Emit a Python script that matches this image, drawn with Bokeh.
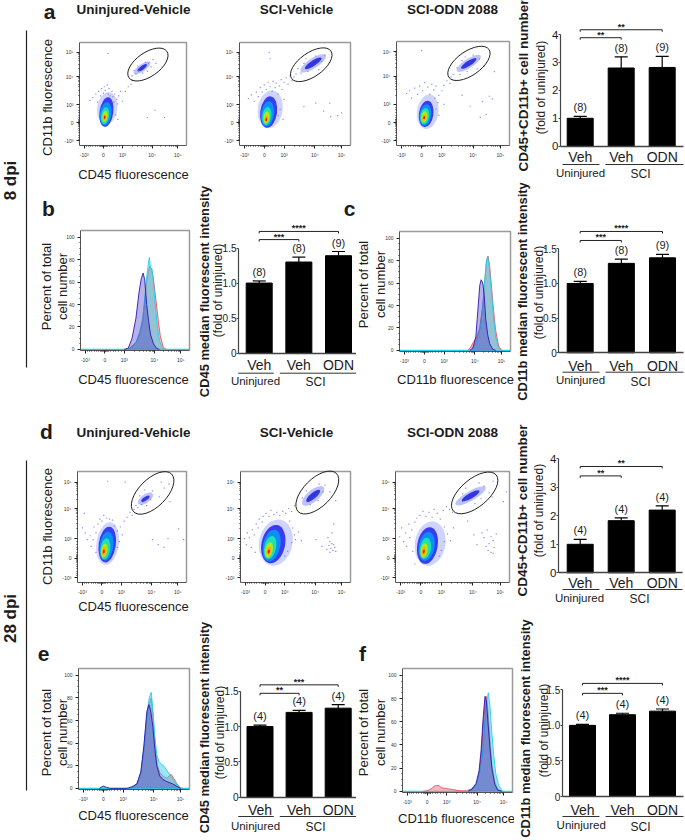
from bokeh.plotting import figure
from bokeh.layouts import row, column
from bokeh.models import Range1d, FixedTicker, Label, Whisker, TeeHead, ColumnDataSource
from bokeh.core.properties import value
from bokeh.embed import file_html
from bokeh.resources import INLINE

FONT = "Liberation Sans"
INK = "#1c1c1c"
LETTER = 21

# ---------- flow axes (biexponential display units) ----------
biex_ticks = [-1, 0, 1, 2.55, 3.9]
biex_labels = {-1: "-10³", 0: "0", 1: "10³", 2.55: "10⁴", 3.9: "10⁵"}
biex_minor = [-0.9, -0.8, -0.68, -0.55, -0.42, -0.3, -0.2, -0.15, -0.1, -0.06, -0.03, 0.03, 0.06, 0.1, 0.15,
              0.2, 0.3, 0.42, 0.55, 0.7, 0.85, 1.5, 1.8, 2.0, 2.15, 2.27, 2.37, 2.44, 2.5,
              3.0, 3.25, 3.45, 3.58, 3.68, 3.76, 3.83]
biex_x = (-1.25, 4.35)
biex_y = (-1.25, 4.45)

# density contours, outer to inner
blob_colors = ["#cfd3ff", "#3a3cf0", "#0a8ff6", "#1fe0b4", "#b0e81e", "#ffae00", "#e4200e"]
a1_cx = [0.20, 0.16, 0.12, 0.09, 0.08, 0.07, 0.07]
a1_cy = [0.80, 0.60, 0.50, 0.40, 0.35, 0.32, 0.31]
a1_w = [1.05, 0.72, 0.60, 0.42, 0.28, 0.17, 0.09]
a1_h = [1.80, 1.65, 1.30, 0.95, 0.62, 0.36, 0.18]
a2_cx = [0.30, 0.22, 0.16, 0.13, 0.11, 0.10, 0.10]
a2_cy = [0.75, 0.60, 0.50, 0.38, 0.30, 0.22, 0.18]
a2_w = [1.25, 0.85, 0.66, 0.46, 0.30, 0.18, 0.09]
a2_h = [2.10, 1.75, 1.40, 1.00, 0.66, 0.38, 0.18]
a3_cx = [0.30, 0.22, 0.18, 0.15, 0.13, 0.12, 0.12]
a3_cy = [0.60, 0.48, 0.42, 0.36, 0.32, 0.29, 0.28]
a3_w = [1.05, 0.72, 0.58, 0.44, 0.30, 0.18, 0.09]
a3_h = [1.90, 1.45, 1.20, 0.90, 0.62, 0.36, 0.18]
d1_cx = [0.30, 0.28, 0.24, 0.18, 0.13, 0.11, 0.10]
d1_cy = [0.75, 0.70, 0.62, 0.48, 0.40, 0.36, 0.34]
d1_w = [1.15, 0.88, 0.70, 0.50, 0.32, 0.20, 0.10]
d1_h = [2.20, 1.85, 1.50, 1.10, 0.72, 0.42, 0.20]
d2_cx = [0.55, 0.42, 0.34, 0.26, 0.20, 0.19, 0.19]
d2_cy = [0.80, 0.72, 0.65, 0.55, 0.42, 0.37, 0.34]
d2_w = [1.70, 1.20, 0.88, 0.60, 0.38, 0.22, 0.11]
d2_h = [2.40, 2.00, 1.65, 1.20, 0.80, 0.46, 0.22]
d3_cx = [0.45, 0.32, 0.28, 0.22, 0.16, 0.14, 0.14]
d3_cy = [0.75, 0.65, 0.60, 0.50, 0.40, 0.36, 0.34]
d3_w = [1.50, 1.00, 0.78, 0.55, 0.34, 0.20, 0.10]
d3_h = [2.30, 1.90, 1.50, 1.10, 0.75, 0.44, 0.20]

# gated population: [faint, dense]
a1_pop = dict(cx=2.03, cy=3.05, w=[1.05, 0.60], h=[0.40, 0.22], ang=35)
a2_pop = dict(cx=2.47, cy=3.30, w=[1.50, 1.00], h=[0.55, 0.30], ang=33)
a3_pop = dict(cx=2.33, cy=3.25, w=[1.40, 0.90], h=[0.50, 0.28], ang=33)
d1_pop = dict(cx=2.24, cy=3.05, w=[0.90, 0.50], h=[0.45, 0.20], ang=35)
d2_pop = dict(cx=2.45, cy=3.20, w=[1.40, 0.90], h=[0.60, 0.30], ang=40)
d3_pop = dict(cx=2.44, cy=3.20, w=[1.70, 1.00], h=[0.50, 0.28], ang=30)

# gate ellipses: cx, cy, major, minor, angle
a1_gate = (2.33, 3.23, 2.42, 1.32, 35)
a2_gate = (2.37, 3.22, 2.42, 1.32, 35)
a3_gate = (2.34, 3.25, 2.42, 1.32, 35)
d1_gate = (2.61, 3.35, 2.75, 1.42, 45)
d2_gate = (2.66, 3.37, 2.75, 1.42, 45)
d3_gate = (2.64, 3.35, 2.75, 1.42, 40)

# sparse events
a1_pts = [(-.7,1.25),(-.55,1.4),(-.4,1.6),(-.3,1.15),(-.25,1.75),(-.15,1.5),(-.1,1.9),(0,1.65),(.05,2.0),(.1,1.8),(.2,2.1),
          (.25,1.6),(.3,1.9),(.35,1.5),(.45,1.75),(.5,1.45),(.6,1.6),(.7,1.3),(.8,1.5),(.9,1.75),(.55,1.15),(.75,1.05),
          (1.0,1.2),(1.15,1.75),(1.3,2.0),(1.5,2.35),(1.45,2.15),(.65,.45),(.75,.2),(2.3,.3),(2.7,.7),(3.2,.3),(.25,3.85),
          (1.5,2.6),(1.7,2.7),(1.85,2.9),(1.6,2.9),(2.35,3.3),(2.5,3.1),(2.2,3.35),(2.6,3.5),(2.05,2.75),(1.8,3.15),(2.3,2.85),(2.75,3.3)]
a2_pts = [(-.8,1.35),(-.65,1.55),(-.5,1.2),(-.4,1.7),(-.3,1.45),(-.2,1.95),(-.1,1.7),(0,2.1),(.1,1.85),(.2,2.25),(.3,2.0),(.4,1.75),
          (.45,2.3),(.55,1.95),(.6,2.2),(.7,1.6),(.75,2.05),(.85,2.4),(.9,1.85),(1.0,2.25),(1.1,2.5),(1.2,2.15),(1.3,2.6),(1.4,2.35),
          (1.5,2.55),(1.6,2.7),(.6,1.0),(.8,.75),(.7,.4),(.95,.2),(1.0,1.3),(2.0,.9),(2.6,1.1),(3.0,.65),(3.35,.35),(3.7,.4),(3.9,.55),(3.3,1.1),
          (.25,3.9),(.3,3.55),(1.7,3.0),(1.85,2.75),(2.0,3.3),(2.2,2.85),(2.1,3.55),(2.6,3.7),(2.9,3.4),(2.75,2.95),(3.05,3.75)]
a3_pts = [(-.75,1.6),(-.6,1.75),(-.5,1.35),(-.35,1.9),(-.2,1.55),(-.1,2.0),(.05,1.75),(.15,2.2),(.3,1.95),(.4,1.55),(.5,2.1),(.6,1.8),(.65,1.35),
          (.7,2.0),(.85,1.5),(.8,1.1),(.7,.75),(.85,.4),(1.0,1.75),(1.1,2.05),(1.25,2.3),(1.4,2.15),(1.45,2.5),(1.55,2.65),(1.1,1.0),
          (2.0,1.5),(2.4,.9),(2.9,.3),(3.0,1.15),(3.35,1.45),(3.5,1.3),(3.2,.45),(3.6,2.8),(1.75,3.0),(1.9,2.65),(2.0,3.4),(2.25,2.8),
          (2.15,3.6),(2.55,3.7),(2.85,3.5),(2.75,2.95),(3.1,3.1),(.0,3.95)]
d1_pts = [(-1.0,1.55),(-.85,1.3),(-.75,.95),(-.6,1.15),(-.55,.6),(-.45,.95),(-.4,1.6),(-.3,.3),(-.3,1.3),(-.2,1.75),(-.1,2.0),(0,1.9),(.1,2.2),(.25,2.05),
          (.4,2.0),(.55,1.95),(.65,1.65),(.8,1.4),(.95,1.6),(1.05,1.2),(.9,.85),(.8,.55),(1.15,1.9),(1.3,2.1),(1.45,2.35),(1.55,2.2),(1.65,2.5),(1.75,2.7),
          (1.85,2.6),(2.05,2.75),(2.3,2.7),(2.5,3.0),(2.6,3.45),(2.95,3.15),(3.2,3.6),(3.45,3.8),(3.05,3.9),(3.5,2.9),(1.95,3.2),(2.2,3.5),
          (3.4,1.0),(3.95,1.5),(4.2,.95),(2.6,.95),(2.9,.7),(3.2,.55),(1.2,3.9),(.3,3.95),(-.9,2.3)]
d2_pts = [(-1.05,1.0),(-.95,.7),(-.9,1.3),(-.8,1.05),(-.7,.55),(-.65,1.45),(-.55,1.2),(-.5,.3),(-.45,1.75),(-.35,1.55),(-.3,2.0),(-.15,1.85),(-.1,2.15),(.05,2.3),
          (.2,2.15),(.3,2.45),(.45,2.25),(.6,2.35),(.75,2.2),(.9,2.4),(1.05,2.3),(1.2,2.55),(1.35,2.4),(1.5,2.7),(1.25,1.9),(1.4,1.55),(1.5,1.2),(1.35,.8),(1.55,.95),
          (1.15,.35),(1.0,.1),(1.7,1.35),(1.85,.9),(3.2,1.05),(3.3,.85),(3.25,.65),(3.35,.5),(3.45,.4),(3.55,.55),(3.4,.75),(3.6,.35),(3.3,.3),(3.5,.7),(3.15,.45),
          (3.4,1.3),(3.5,1.75),(2.9,.6),(2.6,.95),(1.9,3.1),(2.1,3.45),(2.3,2.75),(2.7,2.95),(2.95,3.4),(3.05,3.75),(2.75,3.8),(3.3,3.4),(3.6,2.95)]
d3_pts = [(-1.05,1.1),(-.95,1.55),(-.85,.85),(-.75,1.3),(-.7,.6),(-.6,1.75),(-.55,1.05),(-.45,1.45),(-.4,.35),(-.3,1.85),(-.2,2.05),(-.05,2.2),(.1,2.4),(.25,2.15),(.4,2.35),
          (.55,2.1),(.65,2.5),(.8,2.3),(.95,2.0),(1.1,2.45),(1.25,2.65),(1.4,2.5),(1.5,2.75),(1.55,2.35),(1.15,1.6),(1.3,1.25),(1.15,.85),(1.45,.9),(1.0,.4),(1.6,1.55),
          (.9,.1),(-.3,-.3),(3.0,1.3),(3.1,1.05),(3.25,1.45),(3.35,.75),(3.45,1.1),(3.55,.9),(3.3,.4),(3.45,.3),(3.6,.55),(3.2,.6),(3.55,.25),(3.7,1.25),(2.75,.7),(2.6,1.2),
          (2.3,1.9),(2.05,3.3),(2.2,3.6),(2.65,2.8),(2.95,3.05),(3.1,3.7),(3.35,3.35),(3.55,3.95),(2.85,3.85),(3.5,3.15),(4.05,2.9),(4.2,3.4)]

# ---------- histograms (x in biex units, y in percent) ----------
hist_ticks = [0, 20, 40, 60, 80, 100]
hist_minor = [5, 10, 15, 25, 30, 35, 45, 50, 55, 65, 70, 75, 85, 90, 95]

b_blue_x = [1.0, 1.2, 1.4, 1.6, 1.75, 1.87, 1.97, 2.05, 2.15, 2.25, 2.35, 2.5, 2.65, 2.8]
b_blue_y = [0, 1, 10, 28, 50, 63, 68, 62, 40, 25, 13, 5, 1, 0]
b_cyan_x = [1.2, 1.4, 1.6, 1.8, 1.95, 2.05, 2.15, 2.25, 2.29, 2.35, 2.42, 2.5, 2.6, 2.7, 2.8, 2.95, 3.1]
b_cyan_y = [0, 2, 6, 16, 28, 45, 65, 78, 82, 72, 72, 60, 38, 20, 8, 1, 0]
b_red_x = [1.2, 1.4, 1.6, 1.8, 1.95, 2.05, 2.15, 2.3, 2.4, 2.5, 2.62, 2.75, 2.85, 3.0, 3.15]
b_red_y = [0, 3, 6, 14, 25, 42, 60, 74, 72, 62, 45, 25, 12, 2, 0]

c_blue_x = [2.3, 2.45, 2.6, 2.7, 2.8, 2.87, 2.95, 3.02, 3.1, 3.2, 3.3, 3.45, 3.6]
c_blue_y = [0, 2, 12, 35, 58, 63, 60, 50, 28, 14, 6, 1, 0]
c_cyan_x = [2.4, 2.6, 2.8, 2.95, 3.05, 3.13, 3.2, 3.28, 3.38, 3.48, 3.6, 3.75, 3.9]
c_cyan_y = [0, 6, 18, 38, 62, 80, 84, 74, 54, 32, 12, 2, 0]
c_red_x = [2.2, 2.35, 2.5, 2.65, 2.8, 2.95, 3.05, 3.15, 3.22, 3.3, 3.4, 3.5, 3.6, 3.75, 3.9]
c_red_y = [0, 3, 8, 12, 20, 40, 62, 80, 84, 75, 55, 35, 18, 4, 0]

e_blue_x = [-0.2, 0, 0.15, 0.35, 1.2, 1.45, 1.7, 1.9, 2.05, 2.2, 2.3, 2.38, 2.5, 2.6, 2.7, 2.85, 3.0, 3.2, 3.5, 3.7, 3.9]
e_blue_y = [0, 2, 1, 0, 0, 1.5, 4, 15, 38, 68, 74, 70, 55, 35, 20, 11, 8, 6, 4, 2, 0]
e_cyan_x = [1.3, 1.5, 1.7, 1.9, 2.05, 2.2, 2.32, 2.42, 2.5, 2.6, 2.7, 2.8, 2.95, 3.05, 3.2, 3.4, 3.55, 3.7, 3.85, 4.0]
e_cyan_y = [0, 1, 4, 14, 36, 66, 80, 85, 70, 46, 30, 24, 21, 20, 16, 11, 7, 3, 0.5, 0]
e_red_x = [1.3, 1.5, 1.7, 1.9, 2.05, 2.2, 2.32, 2.42, 2.5, 2.6, 2.72, 2.85, 3.0, 3.2, 3.32, 3.42, 3.55, 3.72, 3.88, 4.0]
e_red_y = [0, 1, 4, 14, 34, 62, 76, 80, 66, 42, 21, 14, 11, 9, 11, 12.5, 9, 4, 0.5, 0]

f_blue_x = [2.1, 2.3, 2.5, 2.65, 2.75, 2.85, 2.95, 3.02, 3.1, 3.2, 3.3, 3.45, 3.6, 3.8]
f_blue_y = [0, 2, 7, 18, 35, 62, 82, 78, 60, 38, 20, 6, 1, 0]
f_cyan_x = [2.1, 2.3, 2.5, 2.65, 2.8, 2.9, 3.0, 3.12, 3.2, 3.3, 3.4, 3.5, 3.65, 3.85]
f_cyan_y = [0, 2, 6, 14, 28, 50, 74, 85, 74, 50, 30, 15, 5, 0]
f_red_x = [-0.2, 0, 0.2, 0.4, 0.6, 0.75, 1.0, 1.3, 1.7, 2.0, 2.25, 2.5, 2.65, 2.75, 2.85, 2.95, 3.02, 3.1, 3.2, 3.3, 3.45, 3.6, 3.8]
f_red_y = [0, 0.5, 2, 4.8, 5, 3, 2.4, 1.5, 0.5, 0.5, 2, 6, 15, 30, 55, 78, 82, 70, 45, 22, 8, 2, 0]

# ---------- bar charts ----------
categories = ["Veh", "Veh", "ODN"]
group_labels = ["Uninjured", "SCI"]
a_vals = [1.0, 2.8, 2.82]
a_errs = [0.07, 0.40, 0.40]
a_n = ["(8)", "(8)", "(9)"]
a_br = [(1, 2, 3.885, "**"), (1, 3, 4.17, "**")]
b_vals = [1.0, 1.30, 1.39]
b_errs = [0.03, 0.07, 0.06]
b_n = ["(8)", "(8)", "(9)"]
b_br = [(1, 2, 1.62, "***"), (1, 3, 1.736, "****")]
c_vals = [1.0, 1.29, 1.37]
c_errs = [0.03, 0.06, 0.05]
c_n = ["(8)", "(8)", "(9)"]
c_br = [(1, 2, 1.62, "***"), (1, 3, 1.75, "****")]
d_vals = [1.0, 1.83, 2.20]
d_errs = [0.17, 0.10, 0.15]
d_n = ["(4)", "(4)", "(4)"]
d_br = [(1, 2, 3.40, "**"), (1, 3, 3.73, "**")]
e_vals = [1.0, 1.20, 1.26]
e_errs = [0.02, 0.03, 0.05]
e_n = ["(4)", "(4)", "(4)"]
e_br = [(1, 2, 1.47, "**"), (1, 3, 1.59, "***")]
f_vals = [1.0, 1.15, 1.20]
f_errs = [0.015, 0.02, 0.03]
f_n = ["(4)", "(4)", "(4)"]
f_br = [(1, 2, 1.45, "***"), (1, 3, 1.59, "****")]

ticks_4 = [0, 1, 2, 3, 4]
ticks_15 = [0, 0.5, 1, 1.5]
labels_15 = {0: "0", 0.5: "0.5", 1: "1.0", 1.5: "1.5"}


class Panel:
    """A figure whose frame fills its page cell; `frame` is the plotting box inside it."""

    def __init__(self, cell, frame, xr, yr):
        cx0, cy0, cx1, cy1 = self.cell = cell
        fx0, fy0, fx1, fy1 = frame
        sx = (fx1 - fx0) / (xr[1] - xr[0])
        sy = (fy1 - fy0) / (yr[1] - yr[0])
        self.xr = (xr[0] - (fx0 - cx0) / sx, xr[1] + (cx1 - fx1) / sx)
        self.yr = (yr[0] - (cy1 - fy1) / sy, yr[1] + (fy0 - cy0) / sy)
        self.p = figure(width=cx1 - cx0, height=cy1 - cy0, x_range=Range1d(*self.xr), y_range=Range1d(*self.yr),
                        output_backend="svg", toolbar_location=None, frame_align=False,
                        min_border_left=0, min_border_right=0, min_border_top=0, min_border_bottom=0)
        self.p.grid.visible = False
        self.p.background_fill_color = None
        self.p.border_fill_color = "white"
        self.p.outline_line_color = None

    def X(self, px):
        c = self.cell
        return self.xr[0] + (px - c[0]) * (self.xr[1] - self.xr[0]) / (c[2] - c[0])

    def Y(self, py):
        c = self.cell
        return self.yr[1] - (py - c[1]) * (self.yr[1] - self.yr[0]) / (c[3] - c[1])

    def text(self, px, py, s, size=13, bold=False, angle=0, align="center", color=INK):
        self.p.add_layout(Label(x=self.X(px), y=self.Y(py), text=s, text_font=FONT,
                                text_font_size=f"{size}px", text_font_style="bold" if bold else "normal",
                                angle=angle, angle_units="deg", text_align=align,
                                text_baseline="middle", text_color=color))


def style_flow_axes(P, xr, yr, y_ticks, y_minor, y_labels=None):
    p = P.p
    xa, ya = p.xaxis[0], p.yaxis[0]
    xa.fixed_location = yr[0]
    ya.fixed_location = xr[0]
    xa.bounds = xr
    ya.bounds = yr
    for ax in (xa, ya):
        ax.axis_line_color = "#555555"
        ax.major_tick_line_color = "#222222"
        ax.minor_tick_line_color = "#333333"
        ax.major_tick_out, ax.major_tick_in = 3, 0
        ax.minor_tick_out, ax.minor_tick_in = 1, 0
        ax.major_label_text_font = FONT
        ax.major_label_text_font_size = "5px"
        ax.major_label_text_color = "#333333"
        ax.major_label_standoff = 3
    xa.ticker = FixedTicker(ticks=biex_ticks, minor_ticks=biex_minor)
    xa.major_label_overrides = biex_labels
    ya.ticker = FixedTicker(ticks=y_ticks, minor_ticks=y_minor)
    if y_labels:
        ya.major_label_overrides = y_labels
    # gray upper/right edges of the plotting box
    p.line(x=[xr[0], xr[1], xr[1]], y=[yr[1], yr[1], yr[0]], line_color="#9a9a9a", line_width=1.5)


def scatter_panel(cell, frame, cx, cy, w, h, pop, gate, pts, title, tilt, x_lab=None, y_lab=None):
    P = Panel(cell, frame, biex_x, biex_y)
    p = P.p
    style_flow_axes(P, biex_x, biex_y, biex_ticks, biex_minor, biex_labels)
    p.ellipse(x=cx, y=cy, width=w, height=h, angle=tilt, angle_units="deg",
              fill_color=blob_colors, line_color=None)
    p.ellipse(x=pop["cx"], y=pop["cy"], width=pop["w"], height=pop["h"], angle=pop["ang"], angle_units="deg",
              fill_color=["#aeb3fa", "#2a2fe0"], line_color=None, fill_alpha=[0.8, 0.95])
    p.scatter(x=[q[0] for q in pts], y=[q[1] for q in pts], marker="square", size=1.2,
              fill_color="#6a72f2", line_color=None, fill_alpha=0.8)
    p.ellipse(x=gate[0], y=gate[1], width=gate[2], height=gate[3], angle=gate[4], angle_units="deg",
              fill_color=None, line_color="#222222", line_width=1)
    if title:
        P.text(title[0], title[1], title[2], size=13.5, bold=True)
    if x_lab:
        P.text(x_lab[0], x_lab[1], "CD45 fluorescence")
    if y_lab:
        P.text(y_lab[0], y_lab[1], "CD11b fluorescence", angle=90)
    return P


def hist_panel(cell, frame, curves, letter, xlabel, xl_xy, y1_x, y2_x, y_c):
    hist_y = (-1, 106)
    P = Panel(cell, frame, biex_x, hist_y)
    p = P.p
    style_flow_axes(P, biex_x, hist_y, hist_ticks, hist_minor)
    fills = dict(red="#ef6f78", cyan="#35cdf0", blue="#3a28c4")
    lines = dict(red="#e25a68", cyan="#1fd3ea", blue="#2a18b0")
    alphas = dict(red=0.5, cyan=0.5, blue=0.36)
    p.line(x=list(biex_x), y=[0, 0], line_color=lines["cyan"], line_width=1.3)
    for name, x, y in curves:
        p.varea(x=x, y1=[0] * len(x), y2=y, fill_color=fills[name], fill_alpha=alphas[name])
        p.line(x=x, y=y, line_color=lines[name], line_width=0.9)
    if letter:
        P.text(letter[0], letter[1], letter[2], size=LETTER, bold=True)
    P.text(y1_x, y_c, "Percent of total", angle=90)
    P.text(y2_x, y_c, "cell number", angle=90)
    P.text(xl_xy[0], xl_xy[1], xlabel)
    return P


def bar_panel(cell, ax_x, y0, ytop, vtop, ticks, tick_labels, centers, vals, errs, ns, brackets,
              veh_y, ul_y, ul, uninj, sci, bold, bold_xy, reg_xy, letter=None, bold_size=13.5):
    spacing = (centers[2] - centers[0]) / 2
    x_lo = 1 + (ax_x - centers[0]) / spacing
    x_hi = 1 + (ul[3] - centers[0]) / spacing
    sy = (y0 - ytop) / vtop
    P = Panel(cell, (ax_x, ytop, ul[3], y0), (x_lo, x_hi), (0, vtop))
    p = P.p
    xa, ya = p.xaxis[0], p.yaxis[0]
    xa.fixed_location = 0
    ya.fixed_location = x_lo
    xa.bounds = (x_lo, x_hi)
    ya.bounds = (0, vtop)
    xa.ticker = FixedTicker(ticks=[1, 2, 3])
    xa.major_label_overrides = {1: categories[0], 2: categories[1], 3: categories[2]}
    xa.major_tick_line_color = None
    xa.minor_tick_line_color = None
    xa.major_tick_out, xa.major_tick_in = 0, 0
    xa.major_label_text_font = FONT
    xa.major_label_text_font_size = "14px"
    xa.major_label_text_color = INK
    xa.major_label_standoff = max(0, int(round(veh_y - y0 - 7)))
    xa.axis_line_color = "#444444"
    xa.axis_line_width = 1.3
    ya.ticker = FixedTicker(ticks=ticks)
    if tick_labels:
        ya.major_label_overrides = tick_labels
    ya.minor_tick_line_color = None
    ya.major_tick_out, ya.major_tick_in = 2, 0
    ya.major_tick_line_color = "#444444"
    ya.axis_line_color = "#444444"
    ya.axis_line_width = 1.2
    ya.major_label_text_font = FONT
    ya.major_label_text_font_size = "10px" if tick_labels else "11.5px"
    ya.major_label_text_color = INK
    ya.major_label_standoff = 0

    cats = [1, 2, 3]
    p.vbar(x=cats, top=vals, bottom=0, width=26 / spacing, fill_color="black", line_color="black")
    src = ColumnDataSource(dict(x=cats, lo=vals, hi=[v + e for v, e in zip(vals, errs)], n=ns))
    p.add_layout(Whisker(base="x", lower="lo", upper="hi", source=src, line_color="black", line_width=1.2,
                         lower_head=None, upper_head=TeeHead(size=13, line_color="black", line_width=1.2)))
    p.text(x="x", y="hi", text="n", source=src, y_offset=-9, text_align="center", text_baseline="middle",
           text_font=value(FONT), text_font_size="11px", text_color=INK)
    tick = 2 / sy
    for a, b, v, stars in brackets:
        p.line(x=[a, a, b, b], y=[v - tick, v, v, v - tick], line_color="#222222", line_width=1)
        p.text(x=[(a + b) / 2], y=[v], text=[stars], y_offset=-3, text_align="center", text_baseline="middle",
               text_font=value(FONT), text_font_size="9px", text_font_style="bold", text_color=INK)
    for a, b in ((ul[0], ul[1]), (ul[2], ul[3])):
        p.line(x=[P.X(a), P.X(b)], y=[P.Y(ul_y), P.Y(ul_y)], line_color="#333333", line_width=1)
    P.text(uninj[0], uninj[1], group_labels[0], size=11.5)
    P.text(sci[0], sci[1], group_labels[1], size=12)
    P.text(bold_xy[0], bold_xy[1], bold, size=bold_size, bold=True, angle=90)
    P.text(reg_xy[0], reg_xy[1], "(fold of uninjured)", size=12, angle=90)
    if letter:
        P.text(letter[0], letter[1], letter[2], size=LETTER, bold=True)
    return P


# ---------- rows ----------
ROW1 = 182
ROW2 = 405
ROW3 = 613
ROW4 = 840
MED = 12.9
SPLIT = 356

a1 = scatter_panel((30, 0, 205, ROW1), (79, 42, 186, 145), a1_cx, a1_cy, a1_w, a1_h, a1_pop, a1_gate, a1_pts,
                   (133, 9, "Uninjured-Vehicle"), -8, (133, 174), (47, 97))
a1.text(49, 11, "a", size=LETTER, bold=True)
a2 = scatter_panel((205, 0, 365, ROW1), (239, 42, 350, 145), a2_cx, a2_cy, a2_w, a2_h, a2_pop, a2_gate, a2_pts,
                   (296, 9, "SCI-Vehicle"), -8)
a3 = scatter_panel((365, 0, 514, ROW1), (396, 41, 509, 145), a3_cx, a3_cy, a3_w, a3_h, a3_pop, a3_gate, a3_pts,
                   (452, 9, "SCI-ODN 2088"), -8)
a4 = bar_panel((514, 0, 685, ROW1), 560, 145.7, 34, 4, ticks_4, None, (579.7, 620.8, 661.7), a_vals, a_errs, a_n, a_br,
               156, 164, (562, 599, 605, 683), (580, 172), (640, 173), "CD45+CD11b+ cell number", (523, 85), (540, 87))

b1 = hist_panel((30, ROW1, 195, ROW2), (80, 230, 189, 350),
                [("red", b_red_x, b_red_y), ("cyan", b_cyan_x, b_cyan_y), ("blue", b_blue_x, b_blue_y)],
                (48, 208, "b"), "CD45 fluorescence", (133, 379), 46, 62, 286)
b2 = bar_panel((195, ROW1, SPLIT, ROW2), 238, 352.7, 247.5, 1.5, ticks_15, labels_15, (258.7, 298, 338), b_vals, b_errs, b_n, b_br,
               364, 372.7, (237.7, 273.3, 279.3, SPLIT), (255, 380), (315, 381), "CD45 median fluorescent intensity", (204, 291), (217, 290),
               (349, 208, "c"), MED)
c1 = hist_panel((SPLIT, ROW1, 514, ROW2), (399, 231, 510, 351),
                [("red", c_red_x, c_red_y), ("cyan", c_cyan_x, c_cyan_y), ("blue", c_blue_x, c_blue_y)],
                None, "CD11b fluorescence", (455, 379), 363, 380, 284)
c2 = bar_panel((514, ROW1, 685, ROW2), 558.3, 352.3, 248.3, 1.5, ticks_15, labels_15, (579.7, 620.7, 662), c_vals, c_errs, c_n, c_br,
               364, 371.7, (562, 599, 605, 683), (580, 379), (640, 381), "CD11b median fluorescent intensity", (522, 291), (538, 292),
               None, MED)

d1 = scatter_panel((30, ROW2, 205, ROW3), (77, 471, 186, 582), d1_cx, d1_cy, d1_w, d1_h, d1_pop, d1_gate, d1_pts,
                   (133, 432, "Uninjured-Vehicle"), -8, (133, 606), (47, 526))
d1.text(46, 431, "d", size=LETTER, bold=True)
d2 = scatter_panel((205, ROW2, 365, ROW3), (240, 471, 350, 582), d2_cx, d2_cy, d2_w, d2_h, d2_pop, d2_gate, d2_pts,
                   (296, 432, "SCI-Vehicle"), -12)
d3 = scatter_panel((365, ROW2, 514, ROW3), (395, 471, 509, 582), d3_cx, d3_cy, d3_w, d3_h, d3_pop, d3_gate, d3_pts,
                   (452, 432, "SCI-ODN 2088"), -10)
d4 = bar_panel((514, ROW2, 685, ROW3), 558, 572.3, 458.3, 4, ticks_4, None, (579.7, 620.7, 661.7), d_vals, d_errs, d_n, d_br,
               581.7, 589, (562, 599, 605, 682), (579, 597), (639, 598), "CD45+CD11b+ cell number", (522, 510), (538, 510))

e1 = hist_panel((30, ROW3, 195, ROW4), (78, 668, 189, 789),
                [("red", e_red_x, e_red_y), ("cyan", e_cyan_x, e_cyan_y), ("blue", e_blue_x, e_blue_y)],
                (43, 653, "e"), "CD45 fluorescence", (133, 815), 46, 62, 732)
e2 = bar_panel((195, ROW3, SPLIT, ROW4), 240, 796.7, 690.7, 1.5, ticks_15, labels_15, (259.5, 298.3, 337.7), e_vals, e_errs, e_n, e_br,
               809, 816, (237.7, 273.3, 279.3, SPLIT), (255, 825), (315, 826.7), "CD45 median fluorescent intensity", (204, 727), (219, 732),
               None, MED)
f1 = hist_panel((SPLIT, ROW3, 514, ROW4), (402, 668, 512, 792),
                [("red", f_red_x, f_red_y), ("cyan", f_cyan_x, f_cyan_y), ("blue", f_blue_x, f_blue_y)],
                (362, 653, "f"), "CD11b fluorescence", (456, 818), 363, 380, 732)
f2 = bar_panel((514, ROW3, 685, ROW4), 561.7, 796, 689.3, 1.5, ticks_15, labels_15, (582, 622, 662), f_vals, f_errs, f_n, f_br,
               808, 816, (562, 599, 605, 683), (580.7, 824), (640, 826), "CD11b median fluorescent intensity", (525, 728), (543, 730),
               None, MED)

# left strip with time-point rulers
strip = Panel((0, 0, 30, ROW4), (0, 0, 30, ROW4), (0, 30), (0, ROW4))
strip.p.axis.visible = False
for y_a, y_b in ((30, 367), (460, 790)):
    strip.p.line(x=[strip.X(26), strip.X(26)], y=[strip.Y(y_a), strip.Y(y_b)], line_color="#222222", line_width=1.2)
strip.text(10, 180, "8 dpi", size=17, bold=True, angle=90)
strip.text(10, 618, "28 dpi", size=17, bold=True, angle=90)

rows = [row(a1.p, a2.p, a3.p, a4.p), row(b1.p, b2.p, c1.p, c2.p), row(d1.p, d2.p, d3.p, d4.p), row(e1.p, e2.p, f1.p, f2.p)]
root = row(strip.p, column(*rows))

open("out.html", "w").write(file_html(root, INLINE))
